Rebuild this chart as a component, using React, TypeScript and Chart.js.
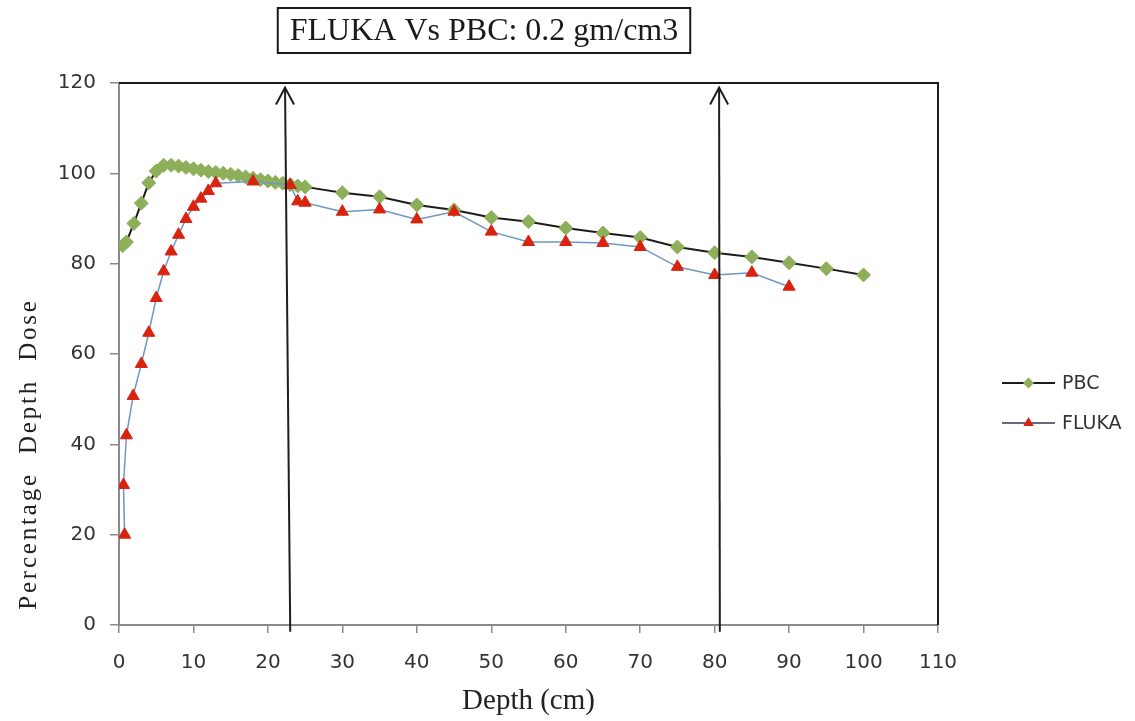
import React, { useEffect, useRef } from "react";
import { Chart, registerables } from "chart.js";

Chart.register(...registerables);

// ---------- data ----------
const chartTitle = "FLUKA Vs PBC: 0.2 gm/cm3";
const xAxisTitle = "Depth (cm)";
const yAxisTitle = "Percentage  Depth  Dose";

const pbcLabel = "PBC";
const pbcDepth = [0.5, 1, 2, 3, 4, 5, 6, 7, 8, 9, 10, 11, 12, 13, 14, 15, 16, 17, 18, 19, 20, 21, 22, 23, 24, 25, 30, 35, 40, 45, 50, 55, 60, 65, 70, 75, 80, 85, 90, 95, 100];
const pbcDose = [84, 84.8, 88.9, 93.4, 97.9, 100.5, 101.8, 101.8, 101.6, 101.3, 101, 100.7, 100.4, 100.2, 100, 99.8, 99.5, 99.2, 98.9, 98.6, 98.3, 98, 97.8, 97.5, 97.2, 97, 95.7, 94.8, 93, 91.9, 90.2, 89.3, 87.9, 86.8, 85.8, 83.7, 82.4, 81.5, 80.2, 78.9, 77.5];

const flukaLabel = "FLUKA";
const flukaDepth = [0.75, 0.6, 1.0, 1.9, 3, 4, 5, 6, 7, 8, 9, 10, 11, 12, 13, 18, 23, 24, 25, 30, 35, 40, 45, 50, 55, 60, 65, 70, 75, 80, 85, 90];
const flukaDose = [20, 31, 42, 50.7, 57.8, 64.7, 72.4, 78.3, 82.7, 86.4, 89.9, 92.6, 94.4, 96.1, 97.8, 98.2, 97.4, 93.8, 93.5, 91.5, 92, 89.8, 91.5, 87.1, 84.8, 84.8, 84.6, 83.7, 79.3, 77.5, 78, 74.9];

// annotation arrows (depth at base / tip, dose at base / tip)
const arrowBaseDepth = [23.0, 80.7];
const arrowTipDepth = [22.3, 80.6];
const arrowBaseDose = -1.5;
const arrowTipDose = 119.0;

const xMin = 0, xMax = 110, xStep = 10;
const yMin = 0, yMax = 120, yStep = 20;

// ---------- styles ----------
const pbcLine = "#1c1c1c";
const pbcMarker = "#8DAF5A";
const flukaLine = "#6F97C2";
const flukaMarker = "#D9230F";
const axisGray = "#8a8a8a";
const textColor = "#333333";

const overlayPlugin = {
  id: "overlay",
  afterDraw(chart: any) {
    const { ctx, chartArea } = chart;
    const xs = chart.scales.x;
    const ys = chart.scales.y;
    ctx.save();

    // top & right frame
    ctx.strokeStyle = "#1a1a1a";
    ctx.lineWidth = 2;
    ctx.beginPath();
    ctx.moveTo(chartArea.left, chartArea.top);
    ctx.lineTo(chartArea.right, chartArea.top);
    ctx.lineTo(chartArea.right, chartArea.bottom);
    ctx.stroke();

    // arrows
    ctx.strokeStyle = "#1e1e1e";
    ctx.lineWidth = 2;
    for (let i = 0; i < arrowBaseDepth.length; i++) {
      const bx = xs.getPixelForValue(arrowBaseDepth[i]);
      const by = ys.getPixelForValue(arrowBaseDose);
      const tx = xs.getPixelForValue(arrowTipDepth[i]);
      const ty = ys.getPixelForValue(arrowTipDose);
      ctx.beginPath();
      ctx.moveTo(bx, by);
      ctx.lineTo(tx, ty);
      ctx.stroke();
      ctx.beginPath();
      ctx.moveTo(tx - 9, ty + 17);
      ctx.lineTo(tx, ty);
      ctx.lineTo(tx + 9, ty + 17);
      ctx.stroke();
    }

    // title box
    ctx.font = "32px 'Liberation Serif'";
    ctx.fillStyle = "#1a1a1a";
    ctx.textAlign = "center";
    ctx.textBaseline = "middle";
    const cx = 484;
    const tw = ctx.measureText(chartTitle).width;
    ctx.lineWidth = 2;
    ctx.strokeStyle = "#1a1a1a";
    ctx.strokeRect(cx - tw / 2 - 12, 8, tw + 24, 45);
    ctx.fillText(chartTitle, cx, 32);

    // x axis title
    ctx.font = "29px 'Liberation Serif'";
    ctx.fillStyle = "#222222";
    ctx.fillText(xAxisTitle, (chartArea.left + chartArea.right) / 2, 701);

    // y axis title
    ctx.save();
    ctx.translate(29, 454);
    ctx.rotate(-Math.PI / 2);
    ctx.font = "25px 'Liberation Serif'";
    (ctx as any).letterSpacing = "2.8px";
    ctx.fillText(yAxisTitle, 0, 0);
    ctx.restore();

    // legend
    const legendItems = [
      { label: pbcLabel, line: pbcLine, marker: pbcMarker, style: "rectRot", y: 383 },
      { label: flukaLabel, line: "#5f6f80", marker: flukaMarker, style: "triangle", y: 423 },
    ];
    ctx.font = "19px 'DejaVu Sans'";
    ctx.textAlign = "left";
    for (const it of legendItems) {
      ctx.strokeStyle = it.line;
      ctx.lineWidth = 2;
      ctx.beginPath();
      ctx.moveTo(chartArea.right + 64, it.y);
      ctx.lineTo(chartArea.right + 117, it.y);
      ctx.stroke();
      ctx.fillStyle = it.marker;
      const mx = chartArea.right + 90.5;
      ctx.beginPath();
      if (it.style === "rectRot") {
        const r = 5.5;
        ctx.moveTo(mx, it.y - r);
        ctx.lineTo(mx + r, it.y);
        ctx.lineTo(mx, it.y + r);
        ctx.lineTo(mx - r, it.y);
      } else {
        const r = 6;
        ctx.moveTo(mx, it.y - r);
        ctx.lineTo(mx + r * 0.866, it.y + r * 0.5);
        ctx.lineTo(mx - r * 0.866, it.y + r * 0.5);
      }
      ctx.closePath();
      ctx.fill();
      ctx.fillStyle = textColor;
      ctx.fillText(it.label, chartArea.right + 124, it.y + 1);
    }

    ctx.restore();
  },
};

export default function App() {
  const ref = useRef<HTMLCanvasElement>(null);

  useEffect(() => {
    document.body.style.margin = "0";
    if (!ref.current) return;
    const chart = new Chart(ref.current, {
      type: "line",
      data: {
        datasets: [
          {
            label: pbcLabel,
            data: pbcDepth.map((d, i) => ({ x: d, y: pbcDose[i] })),
            borderColor: pbcLine,
            borderWidth: 2,
            backgroundColor: pbcMarker,
            pointStyle: "rectRot",
            pointRadius: 7,
            pointBackgroundColor: pbcMarker,
            pointBorderColor: pbcMarker,
            pointBorderWidth: 1,
            tension: 0,
            order: 1,
          },
          {
            label: flukaLabel,
            data: flukaDepth.map((d, i) => ({ x: d, y: flukaDose[i] })),
            borderColor: flukaLine,
            borderWidth: 1.5,
            backgroundColor: flukaMarker,
            pointStyle: "triangle",
            pointRadius: 7,
            pointBackgroundColor: flukaMarker,
            pointBorderColor: flukaMarker,
            pointBorderWidth: 1,
            tension: 0,
            order: 0,
          },
        ],
      },
      options: {
        responsive: false,
        animation: false,
        devicePixelRatio: 1,
        layout: { padding: { top: 83, right: 197, left: 0, bottom: 0 } },
        plugins: {
          legend: { display: false },
          title: { display: false },
          tooltip: { enabled: false },
        },
        scales: {
          x: {
            type: "linear",
            min: xMin,
            max: xMax,
            afterFit: (s: any) => { s.height = 96; },
            ticks: {
              stepSize: xStep,
              color: textColor,
              font: { family: "DejaVu Sans", size: 20 },
              padding: 18,
              maxRotation: 0,
            },
            grid: {
              drawOnChartArea: false,
              drawTicks: true,
              tickLength: 8,
              color: axisGray,
              lineWidth: 1.5,
            },
            border: { display: true, color: axisGray, width: 2 },
          },
          y: {
            type: "linear",
            min: yMin,
            max: yMax,
            afterFit: (s: any) => { s.width = 119; },
            ticks: {
              stepSize: yStep,
              color: textColor,
              font: { family: "DejaVu Sans", size: 20 },
              padding: 14,
            },
            grid: {
              drawOnChartArea: false,
              drawTicks: true,
              tickLength: 9,
              color: axisGray,
              lineWidth: 1.5,
            },
            border: { display: true, color: axisGray, width: 2 },
          },
        },
      },
      plugins: [overlayPlugin],
    });
    return () => chart.destroy();
  }, []);

  return (
    <div style={{ width: 1135, height: 721, background: "#fff" }}>
      <canvas ref={ref} width={1135} height={721} />
    </div>
  );
}
